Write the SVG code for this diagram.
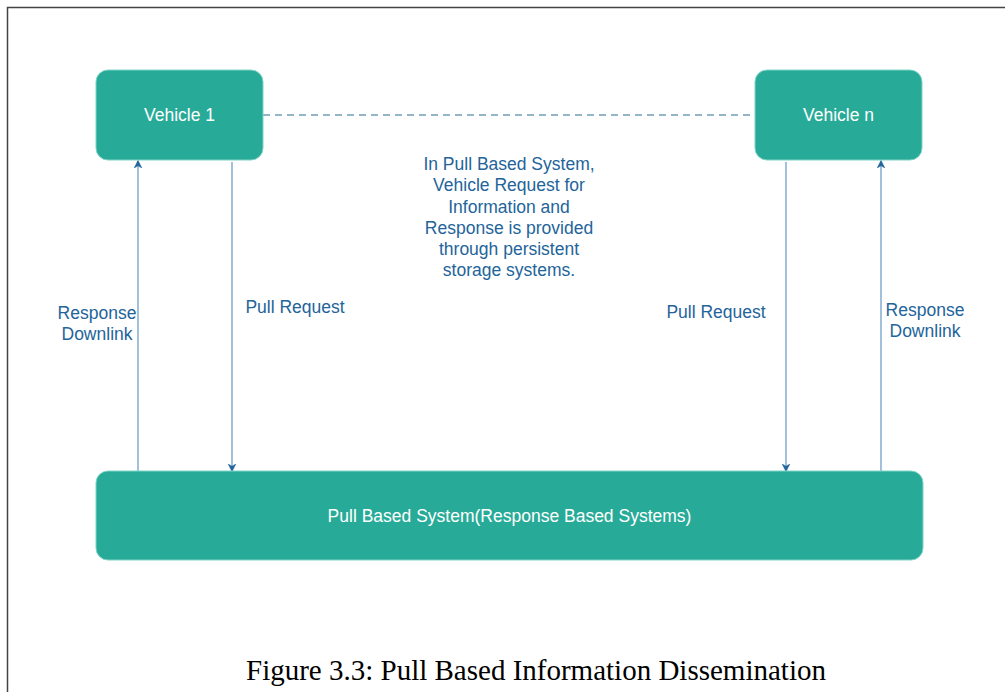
<svg xmlns="http://www.w3.org/2000/svg" width="1005" height="692" viewBox="0 0 1005 692">
<defs>
<style>
.node{fill:#27ab98;stroke:#7fd3c6;stroke-width:1}
.nt{font-family:"Liberation Sans",Arial,sans-serif;font-size:17.5px;fill:#ffffff;text-anchor:middle}
.lbl{font-family:"Liberation Sans",Arial,sans-serif;font-size:17.5px;fill:#23649a;text-anchor:middle}
.edge{stroke:#6f9fca;stroke-width:1.3;fill:none}
.dash{stroke:#6f9fb5;stroke-width:1.3;stroke-dasharray:7 5;fill:none}
</style>
<marker id="ah" viewBox="0 0 10 10" refX="9" refY="5" markerWidth="8" markerHeight="8" orient="auto" markerUnits="userSpaceOnUse">
<path d="M0,0 L10,5 L0,10 L3,5 Z" fill="#23649a" stroke="#23649a" stroke-width="0.5"/>
</marker>
</defs>
<rect width="1005" height="692" fill="#ffffff"/>
<path d="M7.5,692 V7.5 H1005" fill="none" stroke="#444" stroke-width="1.5"/>
<g id="connectors">
<line class="dash" x1="263" y1="115" x2="755" y2="115"/>
<line class="edge" x1="138" y1="471" x2="138" y2="161" marker-end="url(#ah)"/>
<line class="edge" x1="232" y1="162" x2="232" y2="471" marker-end="url(#ah)"/>
<line class="edge" x1="786" y1="162" x2="786" y2="471" marker-end="url(#ah)"/>
<line class="edge" x1="881" y1="471" x2="881" y2="161" marker-end="url(#ah)"/>
</g>
<g id="vehicle1">
<rect class="node" x="96" y="70" width="167" height="90" rx="12"/>
<text class="nt" x="179.5" y="121">Vehicle 1</text>
</g>
<g id="vehiclen">
<rect class="node" x="755" y="70" width="167" height="90" rx="12"/>
<text class="nt" x="838.5" y="121">Vehicle n</text>
</g>
<g id="system">
<rect class="node" x="96" y="471" width="827" height="89" rx="12"/>
<text class="nt" x="509.5" y="522">Pull Based System(Response Based Systems)</text>
</g>
<g id="labels">
<text class="lbl" x="509" y="170">In Pull Based System,</text>
<text class="lbl" x="509" y="191">Vehicle Request for</text>
<text class="lbl" x="509" y="213">Information and</text>
<text class="lbl" x="509" y="234">Response is provided</text>
<text class="lbl" x="509" y="255">through persistent</text>
<text class="lbl" x="509" y="276">storage systems.</text>
<text class="lbl" x="97" y="319">Response</text>
<text class="lbl" x="97" y="340">Downlink</text>
<text class="lbl" x="295" y="313">Pull Request</text>
<text class="lbl" x="716" y="318">Pull Request</text>
<text class="lbl" x="925" y="316">Response</text>
<text class="lbl" x="925" y="337">Downlink</text>
</g>
<text x="536" y="680" font-family="'Liberation Serif','Times New Roman',serif" font-size="29" fill="#000" text-anchor="middle">Figure 3.3: Pull Based Information Dissemination</text>
</svg>
